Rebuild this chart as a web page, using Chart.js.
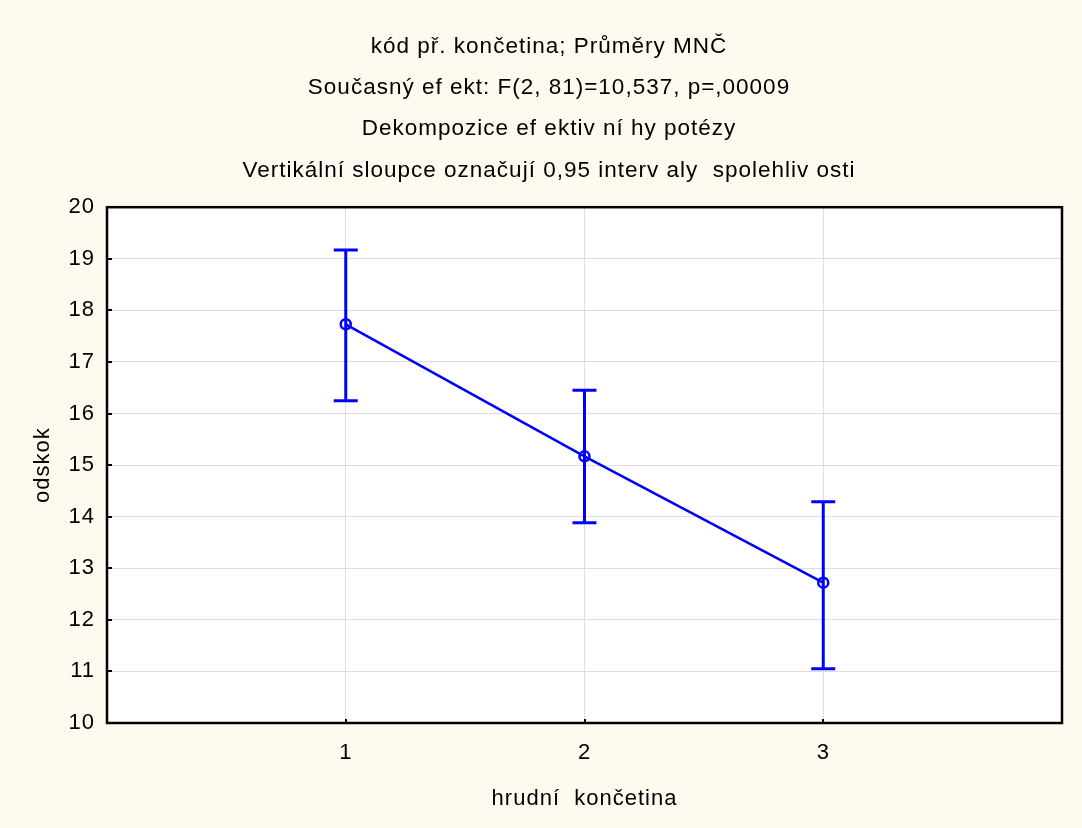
<!DOCTYPE html>
<html>
<head>
<meta charset="utf-8">
<script src="https://cdn.jsdelivr.net/npm/chart.js@4/dist/chart.umd.min.js"></script>
<style>
  html, body { margin: 0; padding: 0; background: #FFFAF0; }
  #wrap { width: 1082px; height: 828px; }
</style>
</head>
<body>
<div id="wrap"><canvas id="c" width="1082" height="828"></canvas></div>
<script>
// Titles and axis labels
const titleLines = [
  'kód př. končetina; Průměry MNČ',
  'Současný ef ekt: F(2, 81)=10,537, p=,00009',
  'Dekompozice ef ektiv ní hy potézy',
  'Vertikální sloupce označují 0,95 interv aly  spolehliv osti'
];
const xTitle = 'hrudní  končetina';
const yTitle = 'odskok';

// Groups (x positions) and least-squares means with 0.95 confidence limits
const categories = [1, 2, 3];
const means = [17.73, 15.17, 12.72];
const lowerCI = [16.25, 13.88, 11.05];
const upperCI = [19.17, 16.45, 14.29];

// Axis ranges / tick labels
const xRange = [0, 4];
const yTicks = [10, 11, 12, 13, 14, 15, 16, 17, 18, 19, 20];

const FONT = '"Liberation Sans", Arial, sans-serif';
const BLUE = '#0000FF';

// Page background + white plot area; wide text tracking for all labels
const backgroundPlugin = {
  id: 'backgroundPlugin',
  beforeDraw(chart) {
    const { ctx, chartArea: a } = chart;
    ctx.letterSpacing = '1px';
    ctx.save();
    ctx.fillStyle = '#FFFAF0';
    ctx.fillRect(0, 0, chart.width, chart.height);
    ctx.fillStyle = '#FFFFFF';
    ctx.fillRect(a.left, a.top, a.right - a.left, a.bottom - a.top);
    ctx.restore();
  }
};

// Confidence-interval whiskers with caps
const errorBarPlugin = {
  id: 'errorBarPlugin',
  beforeDatasetsDraw(chart) {
    const { ctx, scales: { x, y } } = chart;
    ctx.save();
    ctx.strokeStyle = BLUE;
    ctx.lineWidth = 3;
    ctx.lineCap = 'butt';
    const cap = 12;
    categories.forEach((c, i) => {
      const px = x.getPixelForValue(c);
      const yLo = y.getPixelForValue(lowerCI[i]);
      const yHi = y.getPixelForValue(upperCI[i]);
      ctx.beginPath();
      ctx.moveTo(px, yLo); ctx.lineTo(px, yHi);
      ctx.moveTo(px - cap, yHi); ctx.lineTo(px + cap, yHi);
      ctx.moveTo(px - cap, yLo); ctx.lineTo(px + cap, yLo);
      ctx.stroke();
    });
    ctx.restore();
  }
};

// Black frame round the plot with short inward tick marks
const framePlugin = {
  id: 'framePlugin',
  afterDraw(chart) {
    const { ctx, chartArea: a, scales: { x, y } } = chart;
    ctx.save();
    ctx.strokeStyle = '#000000';
    ctx.lineWidth = 2.5;
    ctx.strokeRect(a.left, a.top, a.right - a.left, a.bottom - a.top);
    ctx.lineWidth = 2;
    ctx.beginPath();
    y.ticks.forEach(t => {
      const py = Math.round(y.getPixelForValue(t.value));
      ctx.moveTo(a.left, py); ctx.lineTo(a.left + 5, py);
    });
    x.ticks.forEach(t => {
      const px = Math.round(x.getPixelForValue(t.value));
      ctx.moveTo(px, a.bottom); ctx.lineTo(px, a.bottom - 4);
    });
    ctx.stroke();
    ctx.restore();
  }
};

new Chart(document.getElementById('c'), {
  type: 'line',
  data: {
    datasets: [{
      data: categories.map((c, i) => ({ x: c, y: means[i] })),
      borderColor: BLUE,
      borderWidth: 2.5,
      pointRadius: 5,
      pointBorderWidth: 2.5,
      pointBorderColor: BLUE,
      pointBackgroundColor: 'rgba(0,0,0,0)',
      tension: 0,
      fill: false
    }]
  },
  options: {
    responsive: false,
    devicePixelRatio: 1,
    animation: false,
    events: [],
    layout: { padding: { top: 26, right: 20, bottom: 0, left: 36 } },
    plugins: {
      legend: { display: false },
      tooltip: { enabled: false },
      title: {
        display: true,
        text: titleLines,
        color: '#000000',
        font: { family: FONT, size: 22.5, weight: 'normal', lineHeight: 41.3 / 22.5 },
        padding: { top: 0, bottom: 16 }
      }
    },
    scales: {
      x: {
        type: 'linear',
        min: xRange[0],
        max: xRange[1],
        afterBuildTicks(scale) { scale.ticks = categories.map(v => ({ value: v })); },
        afterFit(scale) { scale.height = 105; },
        grid: { color: '#DEDEDE', lineWidth: 1, drawTicks: false },
        border: { display: false },
        ticks: {
          color: '#000000',
          padding: 17,
          font: { family: FONT, size: 22 },
          callback: v => String(v)
        },
        title: {
          display: true,
          text: xTitle,
          color: '#000000',
          font: { family: FONT, size: 22 },
          padding: { top: 14, bottom: 16 }
        }
      },
      y: {
        min: yTicks[0],
        max: yTicks[yTicks.length - 1],
        afterBuildTicks(scale) { scale.ticks = yTicks.map(v => ({ value: v })); },
        afterFit(scale) { scale.width = 71; },
        grid: { color: '#DEDEDE', lineWidth: 1, drawTicks: false },
        border: { display: false },
        ticks: {
          color: '#000000',
          padding: 12,
          font: { family: FONT, size: 22 },
          callback: v => String(v)
        },
        title: {
          display: true,
          text: yTitle,
          color: '#000000',
          font: { family: FONT, size: 22, lineHeight: 0.64 },
          padding: { top: 0, bottom: 0 }
        }
      }
    }
  },
  plugins: [backgroundPlugin, errorBarPlugin, framePlugin]
});
</script>
</body>
</html>
